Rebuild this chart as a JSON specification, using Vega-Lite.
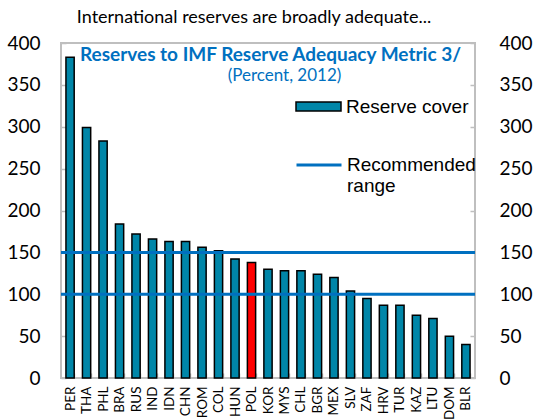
{
  "$schema": "https://vega.github.io/schema/vega-lite/v6.json",
  "width": 414,
  "height": 335,
  "autosize": "none",
  "padding": {"left": 61, "top": 43, "right": 75, "bottom": 42},
  "background": "white",
  "config": {
    "view": {"stroke": "#BFBFBF", "strokeWidth": 2},
    "axis": {"domain": false, "grid": false, "tickColor": "#BFBFBF", "tickWidth": 1.5, "labelColor": "black"}
  },
  "title": {"text": "International reserves are broadly adequate...", "font": "Lato", "fontSize": 18, "fontWeight": "normal", "color": "black", "anchor": "middle", "dx": -14, "offset": 7},
  "layer": [
    {
      "data": {"values": [
        {"country": "PER", "value": 383, "group": "Reserve cover"},
        {"country": "THA", "value": 299, "group": "Reserve cover"},
        {"country": "PHL", "value": 283, "group": "Reserve cover"},
        {"country": "BRA", "value": 184, "group": "Reserve cover"},
        {"country": "RUS", "value": 172, "group": "Reserve cover"},
        {"country": "IND", "value": 166, "group": "Reserve cover"},
        {"country": "IDN", "value": 163, "group": "Reserve cover"},
        {"country": "CHN", "value": 163, "group": "Reserve cover"},
        {"country": "ROM", "value": 156, "group": "Reserve cover"},
        {"country": "COL", "value": 152, "group": "Reserve cover"},
        {"country": "HUN", "value": 142, "group": "Reserve cover"},
        {"country": "POL", "value": 138, "group": "Highlight"},
        {"country": "KOR", "value": 130, "group": "Reserve cover"},
        {"country": "MYS", "value": 128, "group": "Reserve cover"},
        {"country": "CHL", "value": 128, "group": "Reserve cover"},
        {"country": "BGR", "value": 124, "group": "Reserve cover"},
        {"country": "MEX", "value": 120, "group": "Reserve cover"},
        {"country": "SLV", "value": 104, "group": "Reserve cover"},
        {"country": "ZAF", "value": 95, "group": "Reserve cover"},
        {"country": "HRV", "value": 87, "group": "Reserve cover"},
        {"country": "TUR", "value": 87, "group": "Reserve cover"},
        {"country": "KAZ", "value": 75, "group": "Reserve cover"},
        {"country": "LTU", "value": 71, "group": "Reserve cover"},
        {"country": "DOM", "value": 50, "group": "Reserve cover"},
        {"country": "BLR", "value": 40, "group": "Reserve cover"}
      ]},
      "mark": {"type": "bar", "stroke": "black", "strokeWidth": 1.5},
      "encoding": {
        "x": {"field": "country", "type": "nominal", "sort": null,
              "scale": {"paddingInner": 0.5, "paddingOuter": 0.3},
              "axis": {"title": null, "labelAngle": -90, "labelFont": "Lato", "labelFontSize": 13.5, "labelPadding": 13, "tickBand": "extent", "tickSize": -5}},
        "y": {"field": "value", "type": "quantitative",
              "scale": {"domain": [0, 400], "nice": false},
              "axis": {"orient": "left", "title": null, "values": [0, 50, 100, 150, 200, 250, 300, 350, 400], "labelFont": "Lato", "labelFontSize": 19, "tickSize": -5, "labelPadding": 26}},
        "fill": {"field": "group", "type": "nominal",
                 "scale": {"domain": ["Reserve cover", "Highlight"], "range": ["#0086A8", "#FF0000"]},
                 "legend": {"values": ["Reserve cover"], "title": null, "orient": "none", "legendX": 234, "legendY": 40,
                            "symbolType": "M-1,-0.2H1V0.2H-1Z", "symbolSize": 2025, "symbolStrokeColor": "black", "symbolStrokeWidth": 1.5, "symbolOpacity": 1,
                            "labelFont": "Liberation Sans", "labelFontSize": 19, "labelColor": "black", "labelOffset": 4}}
      }
    },
    {
      "data": {"values": [
        {"level": 100, "series": "Recommended range"},
        {"level": 150, "series": "Recommended range"}
      ]},
      "mark": {"type": "rule", "strokeWidth": 3},
      "encoding": {
        "y": {"field": "level", "type": "quantitative",
              "axis": {"orient": "right", "title": null, "values": [0, 50, 100, 150, 200, 250, 300, 350, 400], "labelFont": "Lato", "labelFontSize": 19, "tickSize": -5, "labelPadding": 29, "labelAlign": "left"}},
        "stroke": {"field": "series", "type": "nominal",
                   "scale": {"range": ["#0070C0"]},
                   "legend": {"title": null, "orient": "none", "legendX": 234, "legendY": 98,
                              "symbolType": "stroke", "symbolSize": 2025, "symbolStrokeWidth": 3,
                              "labelFont": "Liberation Sans", "labelFontSize": 19, "labelColor": "black", "labelOffset": 4,
                              "labelExpr": "['Recommended', 'range']", "labelBaseline": "middle"}}
      }
    },
    {
      "data": {"values": [{"t": "Reserves to IMF Reserve Adequacy Metric 3/"}]},
      "mark": {"type": "text", "font": "Lato", "fontSize": 19, "fontWeight": "bold", "color": "#0070C0", "dx": -14},
      "encoding": {
        "text": {"field": "t"},
        "x": {"datum": "MYS"},
        "y": {"datum": 386, "axis": null}
      }
    },
    {
      "data": {"values": [{"t": "(Percent, 2012)"}]},
      "mark": {"type": "text", "font": "Lato", "fontSize": 17, "color": "#0070C0"},
      "encoding": {
        "text": {"field": "t"},
        "x": {"datum": "MYS"},
        "y": {"datum": 361, "axis": null}
      }
    }
  ],
  "resolve": {"axis": {"y": "independent"}}
}
